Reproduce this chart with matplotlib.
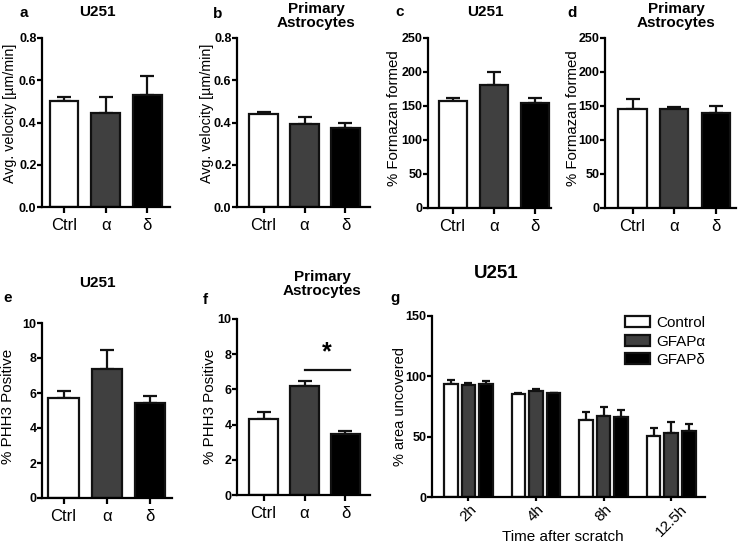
import matplotlib
matplotlib.use("Agg")
import matplotlib.pyplot as plt
import numpy as np

plt.rcParams['font.family'] = ['Liberation Sans', 'DejaVu Sans']

# categorie e colori
gruppi = ["Ctrl", "α", "δ"]
colori = ["white", "#404040", "black"]

# a - velocita U251
vel_u251 = [0.50, 0.445, 0.53]
vel_u251_err = [0.02, 0.075, 0.09]
# b - velocita astrociti
vel_astro = [0.44, 0.395, 0.372]
vel_astro_err = [0.01, 0.03, 0.025]
# c - formazano U251
form_u251 = [157, 181, 154]
form_u251_err = [5, 19, 8]
# d - formazano astrociti
form_astro = [145, 145, 139]
form_astro_err = [15, 4, 11]
# e - PHH3 U251
phh3_u251 = [5.69, 7.38, 5.43]
phh3_u251_err = [0.44, 1.06, 0.40]
# f - PHH3 astrociti
phh3_astro = [4.31, 6.17, 3.45]
phh3_astro_err = [0.43, 0.28, 0.21]
# g - scratch assay
tempi = ["2h", "4h", "8h", "12.5h"]
serie_g = ["Control", "GFAPα", "GFAPδ"]
area_ctrl = [93.8, 85.0, 64.2, 50.4]
area_ctrl_err = [3.2, 1.3, 6.4, 6.9]
area_alfa = [92.7, 87.7, 67.5, 53.1]
area_alfa_err = [1.7, 1.7, 7.2, 9.2]
area_delta = [93.8, 85.8, 65.9, 54.8]
area_delta_err = [2.5, 0.5, 6.6, 5.8]

W, H = 738, 544
fig = plt.figure(figsize=(W / 100, H / 100), dpi=100)


def box(x0, x1, y0, y1):
    return [x0 / W, 1 - y1 / H, (x1 - x0) / W, (y1 - y0) / H]


def stile_assi(ax):
    for s in ["top", "right"]:
        ax.spines[s].set_visible(False)
    for s in ["left", "bottom"]:
        ax.spines[s].set_linewidth(1.6)
    ax.tick_params(axis="y", width=1.6, length=3.5, labelsize=9, pad=0.5)
    ax.tick_params(axis="x", width=1.6, length=4, labelsize=12, pad=4)
    for lab in ax.get_yticklabels():
        lab.set_fontweight("bold")


def etichetta_y(ax, testo_y, px, py, size):
    # posiziona il centro dell'etichetta y in pixel della figura
    pos = ax.get_position()
    x0, y0 = pos.x0 * W, (1 - pos.y1) * H
    w, h = pos.width * W, pos.height * H
    ax.set_ylabel(testo_y, fontsize=size, va="center")
    ax.yaxis.set_label_coords((px - x0) / w, 1 - (py - y0) / h)


def pannello(ax, valori, errori, ylim, yticks, xlim, larg=0.68):
    x = np.arange(len(valori))
    ax.bar(x, valori, width=larg, color=colori, edgecolor="#111111", linewidth=1.6, zorder=2)
    ax.errorbar(x, valori, yerr=[np.zeros(len(errori)), errori], fmt="none",
                ecolor="#111111", elinewidth=1.6, capsize=5, capthick=1.6, zorder=1)
    ax.set_ylim(*ylim)
    ax.set_yticks(yticks)
    ax.set_xlim(*xlim)
    ax.set_xticks(x)
    ax.set_xticklabels(gruppi)
    stile_assi(ax)


ax_a = fig.add_axes(box(42, 170, 38, 207))
pannello(ax_a, vel_u251, vel_u251_err, (0, 0.8), [0.0, 0.2, 0.4, 0.6, 0.8], (-0.52, 2.54))
ax_a.set_yticklabels(["0.0", "0.2", "0.4", "0.6", "0.8"], fontweight="bold")
etichetta_y(ax_a, "Avg. velocity [µm/min]", 10, 113, 10.3)

ax_b = fig.add_axes(box(237, 370, 38, 207))
pannello(ax_b, vel_astro, vel_astro_err, (0, 0.8), [0.0, 0.2, 0.4, 0.6, 0.8], (-0.65, 2.6), larg=0.7)
ax_b.set_yticklabels(["0.0", "0.2", "0.4", "0.6", "0.8"], fontweight="bold")
etichetta_y(ax_b, "Avg. velocity [µm/min]", 207, 113, 10.3)

ax_c = fig.add_axes(box(428, 551, 38, 208))
pannello(ax_c, form_u251, form_u251_err, (0, 250), [0, 50, 100, 150, 200, 250], (-0.6, 2.4))
etichetta_y(ax_c, "% Formazan formed", 394, 118, 10.8)

ax_d = fig.add_axes(box(605, 736, 38, 208))
pannello(ax_d, form_astro, form_astro_err, (0, 250), [0, 50, 100, 150, 200, 250], (-0.66, 2.48))
etichetta_y(ax_d, "% Formazan formed", 573, 118, 10.8)

ax_e = fig.add_axes(box(42, 172, 323, 498))
pannello(ax_e, phh3_u251, phh3_u251_err, (0, 10), [0, 2, 4, 6, 8, 10], (-0.5, 2.52), larg=0.7)
etichetta_y(ax_e, "% PHH3 Positive", 8, 406, 10.9)

ax_f = fig.add_axes(box(237, 370, 319, 495))
pannello(ax_f, phh3_astro, phh3_astro_err, (0, 10), [0, 2, 4, 6, 8, 10], (-0.65, 2.6), larg=0.7)
etichetta_y(ax_f, "% PHH3 Positive", 210, 406, 10.9)
ax_f.plot([1.0, 2.1], [7.13, 7.13], color="#111111", lw=1.6)
ax_f.text(1.55, 7.4, "*", ha="center", va="bottom", fontsize=18, fontweight="bold")

# pannello g
ax_g = fig.add_axes(box(432, 705, 316, 497))
xg = np.arange(len(tempi))
passo = 0.26
for i, (val, err, nome) in enumerate([(area_ctrl, area_ctrl_err, serie_g[0]),
                                      (area_alfa, area_alfa_err, serie_g[1]),
                                      (area_delta, area_delta_err, serie_g[2])]):
    pos = xg + (i - 1) * passo
    ax_g.bar(pos, val, width=0.2, color=colori[i], edgecolor="#111111",
             linewidth=1.6, zorder=2, label=nome)
    ax_g.errorbar(pos, val, yerr=[np.zeros(len(err)), err], fmt="none",
                  ecolor="#111111", elinewidth=1.6, capsize=3, capthick=1.6, zorder=1)
ax_g.set_ylim(0, 150)
ax_g.set_yticks([0, 50, 100, 150])
ax_g.set_xlim(-0.54, 3.5)
ax_g.set_xticks(xg)
ax_g.set_xticklabels(tempi, rotation=45, ha="center")
stile_assi(ax_g)
ax_g.tick_params(axis="x", labelsize=11, length=3, pad=1)
etichetta_y(ax_g, "% area uncovered", 400, 407, 10.5)
ax_g.set_xlabel("Time after scratch", fontsize=11)
ax_g.xaxis.set_label_coords((563 - 432) / 273, -(537 - 497) / 181)
ax_g.xaxis.label.set_va("center")
ax_g.legend(loc="upper right", fontsize=11, frameon=False, handlelength=1.6,
            handleheight=0.75, labelspacing=0.3, handletextpad=0.4,
            borderaxespad=0.0, borderpad=0.0, bbox_to_anchor=(1.0, 1.0))

# lettere e titoli
def testo(x, y, s, size=11, **kw):
    fig.text(x / W, 1 - y / H, s, fontweight="bold", fontsize=size, va="center", **kw)

testo(20, 13, "a", ha="left")
testo(97, 12, "U251", ha="center")
testo(213, 14, "b", ha="left")
testo(316, 16, "Primary\nAstrocytes", ha="center", linespacing=1.0)
testo(395, 12, "c", ha="left")
testo(485, 12, "U251", ha="center")
testo(567, 13, "d", ha="left")
testo(676, 16, "Primary\nAstrocytes", ha="center", linespacing=1.0)
testo(3, 298, "e", ha="left")
testo(97, 283, "U251", ha="center")
testo(203, 300, "f", ha="left")
testo(322, 284, "Primary\nAstrocytes", ha="center", linespacing=1.0)
testo(390, 298, "g", ha="left")
testo(496, 273, "U251", size=13.5, ha="center")

fig.savefig("out.png", dpi=100)
